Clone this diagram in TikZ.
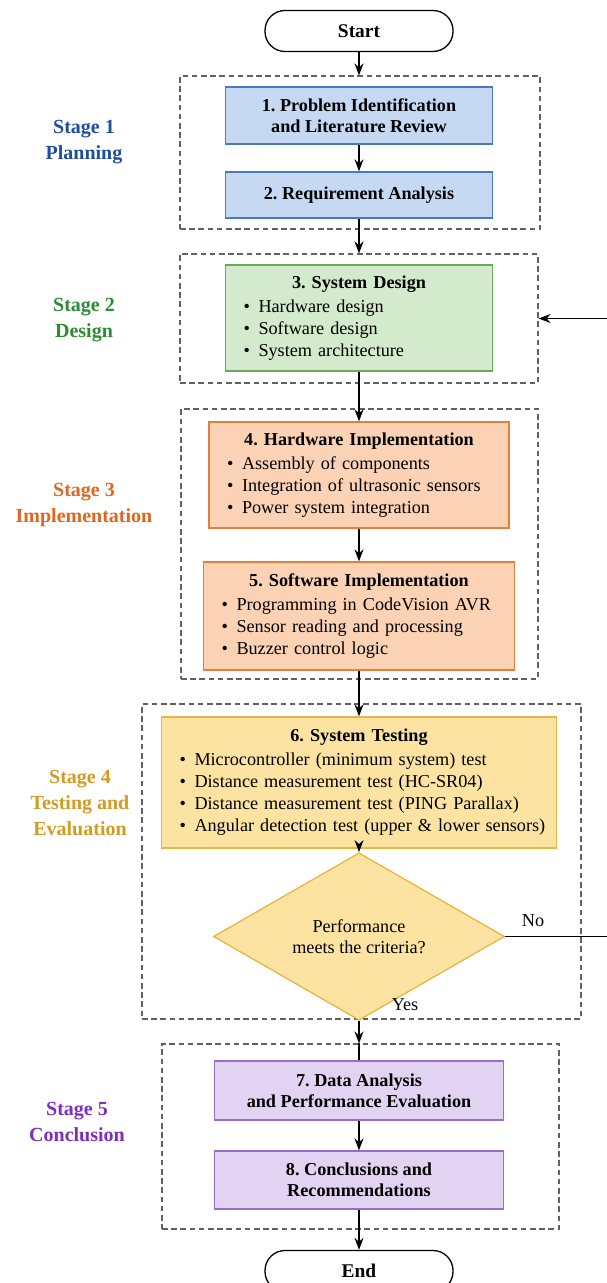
\documentclass[tikz,border=0pt]{standalone}
\usepackage{fontspec}
\setmainfont{Liberation Serif}
\usetikzlibrary{shapes.geometric,%
                arrows.meta}
\frenchspacing

\definecolor{planfill}{HTML}{C6D9F3}
\definecolor{plandraw}{HTML}{4A78C8}
\definecolor{plantext}{HTML}{1F4E9E}
\definecolor{designfill}{HTML}{D3EACD}
\definecolor{designdraw}{HTML}{67AA59}
\definecolor{designtext}{HTML}{2E8A33}
\definecolor{implfill}{HTML}{FBD2B4}
\definecolor{impldraw}{HTML}{E67E3A}
\definecolor{impltext}{HTML}{E0651E}
\definecolor{testfill}{HTML}{FCE3A2}
\definecolor{testdraw}{HTML}{E8B644}
\definecolor{testtext}{HTML}{D49B22}
\definecolor{conclfill}{HTML}{E1D3F1}
\definecolor{concldraw}{HTML}{976FC7}
\definecolor{concltext}{HTML}{7A2FBF}

\newcommand{\blt}[1]{\mbox{\makebox[7.5pt][l]{\textbullet}#1}}
\newcommand{\boxtitle}[1]{\makebox[\linewidth]{\textbf{#1}}\\[1pt]}

\begin{document}
\begin{tikzpicture}[x=0.5pt, y=-0.5pt, font=\fontsize{9.1}{11}\selectfont]
  \tikzstyle{terminal}=[rectangle, rounded corners=10pt, draw=black, line width=0.65pt,
    minimum width=94pt, minimum height=20.5pt, font=\fontsize{9.7}{11}\selectfont\bfseries]
  \tikzstyle{stagebox}=[rectangle, draw=black!62, line width=0.55pt, dash pattern=on 2.8pt off 1.8pt]
  \tikzstyle{stepbox}=[rectangle, line width=0.65pt, inner xsep=9pt, inner ysep=0pt,
    align=center, font=\fontsize{9.1}{10.5}\selectfont\bfseries]
  \tikzstyle{steplist}=[rectangle, line width=0.65pt, inner xsep=9pt, inner ysep=0pt, align=left]
  \tikzstyle{stagelabel}=[align=center, font=\fontsize{10}{13}\selectfont\bfseries]
  \tikzstyle{flow}=[line width=0.75pt, -{Stealth[length=6pt,width=4.5pt]}]
  \tikzstyle{line}=[line width=0.75pt]
  \useasboundingbox (0,0) rectangle (606,1283);

  \node[stagebox, minimum width=180pt, minimum height=76.5pt] (plan) at (360,152.5) {};
  \node[stagebox, minimum width=179pt, minimum height=64.5pt] (design) at (359,318.5) {};
  \node[stagebox, minimum width=178.5pt, minimum height=135pt] (impl) at (359.5,544) {};
  \node[stagebox, minimum width=219.5pt, minimum height=157.5pt] (test) at (361.5,861.5) {};
  \node[stagebox, minimum width=198.5pt, minimum height=92.5pt] (concl) at (360.5,1136.5) {};

  \node[stagelabel, text=plantext] (lplan) at (84,142) {Stage 1\\Planning};
  \node[stagelabel, text=designtext] (ldesign) at (84,320) {Stage 2\\Design};
  \node[stagelabel, text=impltext] (limpl) at (84,505.5) {Stage 3\\Implementation};
  \node[stagelabel, text=testtext] (ltest) at (80,803) {Stage 4\\Testing and\\Evaluation};
  \node[stagelabel, text=concltext] (lconcl) at (77,1121.5) {Stage 5\\Conclusion};

  \node[terminal] (start) at (359,31) {Start};
  \node[stepbox, draw=plandraw, fill=planfill, minimum width=133.5pt, minimum height=28.5pt] (b1)
    at (359,115.5) {1. Problem Identification\\and Literature Review};
  \node[stepbox, draw=plandraw, fill=planfill, minimum width=133.5pt, minimum height=23pt] (b2)
    at (359,195) {2. Requirement Analysis};
  \node[steplist, draw=designdraw, fill=designfill, text width=115.5pt, minimum height=53pt] (b3)
    at (359,318) {\boxtitle{3. System Design}
      \blt{Hardware design}\\ \blt{Software design}\\ \blt{System architecture}};
  \node[steplist, draw=impldraw, fill=implfill, text width=132pt, minimum height=53pt] (b4)
    at (359,475) {\boxtitle{4. Hardware Implementation}
      \blt{Assembly of components}\\ \blt{Integration of ultrasonic sensors}\\
      \blt{Power system integration}};
  \node[steplist, draw=impldraw, fill=implfill, text width=137.5pt, minimum height=54pt] (b5)
    at (359,616) {\boxtitle{5. Software Implementation}
      \blt{Programming in CodeVision AVR}\\ \blt{Sensor reading and processing}\\
      \blt{Buzzer control logic}};
  \node[steplist, draw=testdraw, fill=testfill, text width=179.5pt, minimum height=65.5pt] (b6)
    at (359,782.5) {\boxtitle{6. System Testing}
      \blt{Microcontroller (minimum system) test}\\
      \blt{Distance measurement test (HC-SR04)}\\
      \blt{Distance measurement test (PING Parallax)}\\
      \blt{Angular detection test (upper \& lower sensors)}};
  \node[diamond, draw=testdraw, fill=testfill, line width=0.65pt, inner sep=0pt, align=center,
    minimum width=145.5pt, minimum height=63.5pt, font=\fontsize{9.1}{10.5}\selectfont] (dec)
    at (359,936.5) {Performance\\meets the criteria?};
  \node[stepbox, draw=concldraw, fill=conclfill, minimum width=144.5pt, minimum height=29.5pt] (b7)
    at (359,1090.5) {7. Data Analysis\\and Performance Evaluation};
  \node[stepbox, draw=concldraw, fill=conclfill, minimum width=144.5pt, minimum height=29pt] (b8)
    at (359,1180) {8. Conclusions and\\Recommendations};
  \node[terminal] (end) at (359,1271) {End};

  \node (no) at (533,921) {No};
  \node (yes) at (405,1005) {Yes};
  \coordinate (fb) at (650,600);

  \draw[flow] (start) -- (start |- plan.north);
  \draw[flow] (b1) -- (b2);
  \draw[flow] (b2) -- (b2 |- design.north);
  \draw[flow] (b3) -- (b4);
  \draw[flow] (b4) -- (b5);
  \draw[flow] (b5) -- (b6);
  \draw[flow] (b6) -- (dec);
  \draw[flow] (dec) -- (dec |- concl.north);
  \draw[line] (dec |- concl.north) -- (b7);
  \draw[flow] (b7) -- (b8);
  \draw[flow] (b8) -- (end);
  \draw[flow] (dec.east) -| (fb) |- (design.east);
\end{tikzpicture}
\end{document}
